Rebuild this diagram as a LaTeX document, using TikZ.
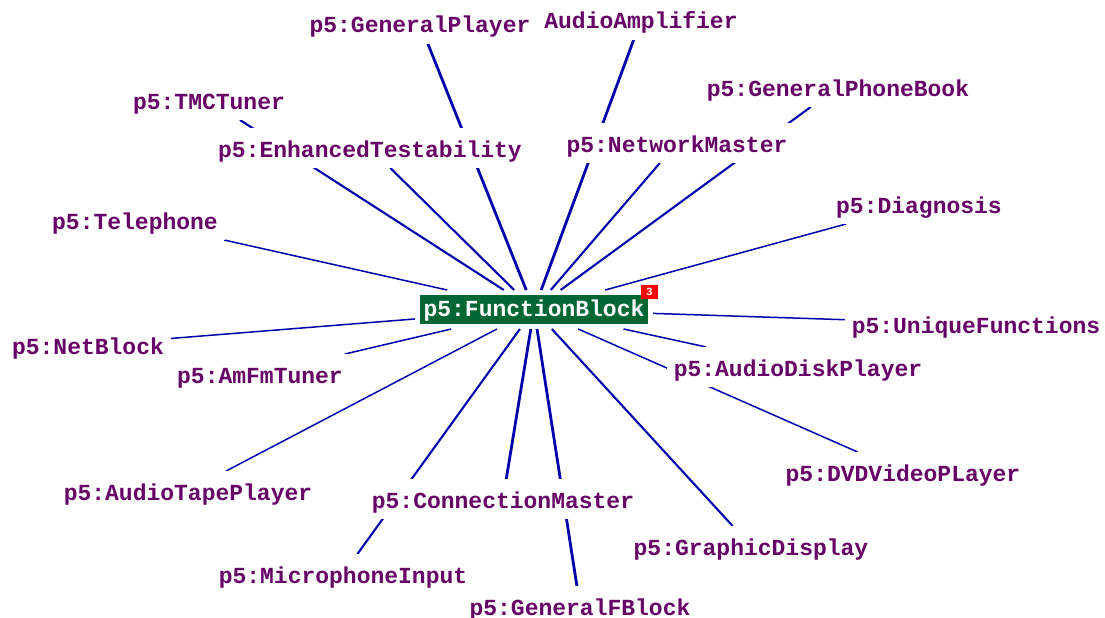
\documentclass[tikz,border=0pt]{standalone}
\usepackage{fontspec}
\newfontfamily\lblfont{Liberation Mono}
\usetikzlibrary{backgrounds}
\definecolor{lblpurple}{RGB}{102,0,102}
\definecolor{edgeblue}{RGB}{0,0,170}
\definecolor{fbgreen}{RGB}{0,102,51}
\definecolor{badgered}{RGB}{255,0,0}
\begin{document}
\begin{tikzpicture}[x=1pt,y=-1pt,
  lbl/.style={font=\lblfont\bfseries\fontsize{23}{23}\selectfont, text=lblpurple,
    fill=white, inner xsep=7pt, inner ysep=10pt, text height=19pt, text depth=1pt,
    anchor=base, outer sep=0pt},
  hub/.style={font=\lblfont\bfseries\fontsize{23}{23}\selectfont, text=white,
    fill=fbgreen, inner xsep=3.5pt, inner ysep=4pt, text height=17pt, text depth=4pt,
    outer sep=5pt, minimum width=228pt},
  badge/.style={fill=badgered, text=white, font=\lblfont\bfseries\fontsize{11}{11}\selectfont,
    minimum width=17pt, minimum height=14pt, inner sep=0pt},
  edgeA/.style={draw=edgeblue, line width=2.8pt},
  edgeB/.style={draw=edgeblue, line width=2.1pt},
  edgeC/.style={draw=edgeblue, line width=1.5pt}]
\useasboundingbox (0,0) rectangle (1105,618);

\node[hub] (fb) at (534,309.5) {p5:FunctionBlock};
\node[badge] (bd) at (649.5,292) {3};

\node[lbl] (gp)  at (420,33)  {p5:GeneralPlayer};
\node[lbl] (aa)  at (641,29)  {AudioAmplifier};
\node[lbl] (gpb) at (838,96)  {p5:GeneralPhoneBook};
\node[lbl] (tmc) at (209,109) {p5:TMCTuner};
\node[lbl] (et)  at (370,157) {p5:EnhancedTestability};
\node[lbl] (nm)  at (677,152) {p5:NetworkMaster};
\node[lbl] (tel) at (135,229) {p5:Telephone};
\node[lbl] (dg)  at (919,213) {p5:Diagnosis};
\node[lbl] (uf)  at (976,333) {p5:UniqueFunctions};
\node[lbl] (nb)  at (88,354)  {p5:NetBlock};
\node[lbl] (am)  at (260,383) {p5:AmFmTuner};
\node[lbl] (adp) at (798,376) {p5:AudioDiskPlayer};
\node[lbl] (dvd) at (903,481) {p5:DVDVideoPLayer};
\node[lbl] (atp) at (188,500) {p5:AudioTapePlayer};
\node[lbl] (cm)  at (503,508) {p5:ConnectionMaster};
\node[lbl] (gd)  at (751,555) {p5:GraphicDisplay};
\node[lbl] (mi)  at (343,583) {p5:MicrophoneInput};
\node[lbl] (gfb) at (580,615) {p5:GeneralFBlock};

\begin{scope}[on background layer]
\fill[white] (0,0) rectangle (1105,618);
\draw[edgeA] (fb) -- (gp);
\draw[edgeA] (fb) -- (aa);
\draw[edgeB] (fb) -- (gpb);
\draw[edgeB] (fb) -- (tmc);
\draw[edgeB] (fb) -- (et);
\draw[edgeB] (fb) -- (nm);
\draw[edgeC] (fb) -- (tel);
\draw[edgeC] (fb) -- (dg);
\draw[edgeC] (fb) -- (uf);
\draw[edgeC] (fb) -- (nb);
\draw[edgeC] (fb) -- (am);
\draw[edgeC] (fb) -- (adp);
\draw[edgeC] (fb) -- (dvd);
\draw[edgeC] (fb) -- (atp);
\draw[edgeB] (fb) -- (mi);
\draw[edgeA] (fb) -- (cm);
\draw[edgeB] (fb) -- (gd);
\draw[edgeA] (fb) -- (gfb);
\end{scope}
\end{tikzpicture}
\end{document}
